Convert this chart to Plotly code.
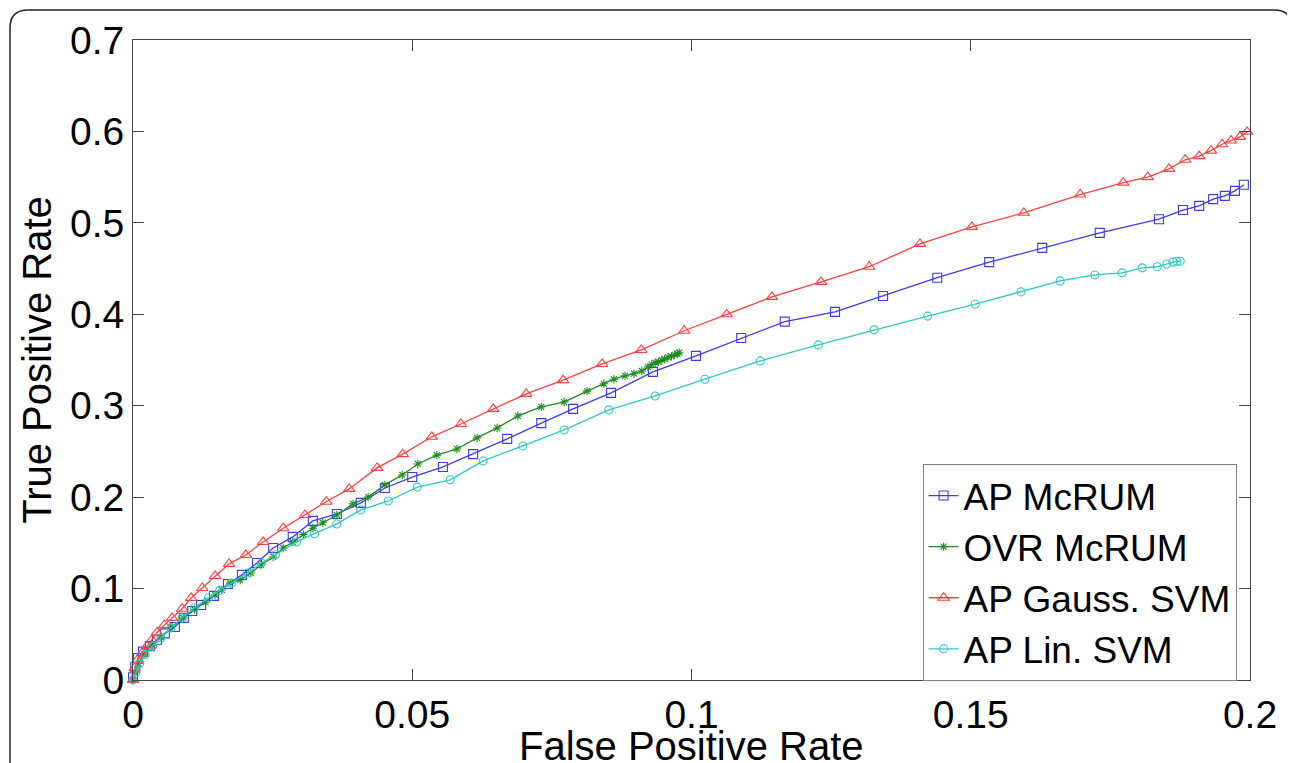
import plotly.graph_objects as go

# ROC curves
ap_mcrum_fpr = [0, 0.0004, 0.0009, 0.0018, 0.0030, 0.0043, 0.0057, 0.0075, 0.0091, 0.0106,
                0.0122, 0.0145, 0.0170, 0.0195, 0.0222, 0.0251, 0.0286, 0.0322, 0.0365, 0.0408,
                0.0451, 0.0500, 0.0555, 0.0609, 0.0670, 0.0731, 0.0788, 0.0856, 0.0931, 0.1008,
                0.1089, 0.1167, 0.1257, 0.1343, 0.1440, 0.1533, 0.1628, 0.1731, 0.1837, 0.1880,
                0.1909, 0.1934, 0.1955, 0.1973, 0.1989]
ap_mcrum_tpr = [0.003, 0.014, 0.024, 0.031, 0.037, 0.044, 0.051, 0.058, 0.068, 0.0755,
                0.082, 0.092, 0.105, 0.115, 0.128, 0.1444, 0.1565, 0.174, 0.1816, 0.1937,
                0.210, 0.222, 0.233, 0.247, 0.2637, 0.281, 0.2965, 0.314, 0.337, 0.3545,
                0.374, 0.392, 0.4026, 0.420, 0.440, 0.457, 0.4726, 0.489, 0.504, 0.514,
                0.5186, 0.526, 0.5295, 0.535, 0.5416]

ovr_mcrum_fpr = [0, 0.0003, 0.0010, 0.0020, 0.0035, 0.0050, 0.0070, 0.0090, 0.0110, 0.0130,
                 0.0147, 0.0159, 0.0174, 0.0192, 0.0211, 0.0229, 0.0251, 0.0269, 0.0286, 0.0305,
                 0.0322, 0.0340, 0.0365, 0.0394, 0.0421, 0.0451, 0.0482, 0.0510, 0.0544, 0.0580,
                 0.0616, 0.0652, 0.0689, 0.0731, 0.0772, 0.0813, 0.0843, 0.0861, 0.0881, 0.0897,
                 0.0911, 0.0922, 0.0929, 0.0935, 0.0941, 0.0947, 0.0952, 0.0958, 0.0964, 0.0970,
                 0.0975, 0.0978]
ovr_mcrum_tpr = [0, 0.008, 0.018, 0.028, 0.038, 0.047, 0.058, 0.068, 0.077, 0.085,
                 0.093, 0.0985, 0.106, 0.1094, 0.117, 0.1258, 0.1346, 0.1444, 0.151, 0.159,
                 0.166, 0.172, 0.1805, 0.1926, 0.200, 0.2134, 0.2243, 0.2363, 0.246, 0.2527,
                 0.2648, 0.2757, 0.2888, 0.2987, 0.304, 0.316, 0.324, 0.329, 0.3326, 0.335,
                 0.338, 0.3425, 0.345, 0.347, 0.348, 0.350, 0.351, 0.353, 0.354, 0.3556,
                 0.357, 0.358]

ap_gauss_fpr = [0, 0.0003, 0.0008, 0.0016, 0.0025, 0.0034, 0.0043, 0.0056, 0.0070, 0.0088,
                0.0104, 0.0124, 0.0147, 0.0172, 0.0202, 0.0233, 0.0269, 0.0308, 0.0346, 0.0387,
                0.0437, 0.0483, 0.0535, 0.0587, 0.0645, 0.0704, 0.0770, 0.0840, 0.0910, 0.0987,
                0.1063, 0.1144, 0.1232, 0.1318, 0.1409, 0.1502, 0.1595, 0.1696, 0.1773, 0.1817,
                0.1855, 0.1884, 0.1909, 0.1930, 0.1950, 0.1966, 0.1982, 0.1995]
ap_gauss_tpr = [0, 0.013, 0.022, 0.029, 0.037, 0.044, 0.052, 0.060, 0.068, 0.078,
                0.0897, 0.1007, 0.1138, 0.127, 0.1368, 0.151, 0.166, 0.1805, 0.195, 0.209,
                0.232, 0.247, 0.266, 0.280, 0.2965, 0.313, 0.328, 0.3457, 0.361, 0.382,
                0.400, 0.419, 0.4355, 0.452, 0.477, 0.4956, 0.511, 0.531, 0.544, 0.550,
                0.559, 0.569, 0.573, 0.579, 0.586, 0.590, 0.594, 0.5996]

ap_lin_fpr = [0, 0.0005, 0.0012, 0.0022, 0.0035, 0.0050, 0.0068, 0.0088, 0.0110, 0.0135,
              0.0155, 0.0176, 0.0205, 0.0230, 0.0255, 0.0293, 0.0325, 0.0365, 0.0408, 0.0457,
              0.0509, 0.0568, 0.0627, 0.0698, 0.0772, 0.0852, 0.0935, 0.1024, 0.1123, 0.1227,
              0.1327, 0.1423, 0.1508, 0.1590, 0.1660, 0.1722, 0.1771, 0.1807, 0.1834, 0.1851,
              0.1862, 0.1869, 0.1875]
ap_lin_tpr = [0, 0.008, 0.018, 0.028, 0.037, 0.046, 0.057, 0.068, 0.079, 0.090,
              0.098, 0.106, 0.117, 0.128, 0.137, 0.151, 0.160, 0.1707, 0.186, 0.1958,
              0.211, 0.219, 0.2396, 0.256, 0.2735, 0.2954, 0.3107, 0.329, 0.349, 0.3665,
              0.383, 0.398, 0.411, 0.4245, 0.4365, 0.443, 0.4453, 0.4508, 0.452, 0.455,
              0.457, 0.458, 0.458]

x_ticks = [0, 0.05, 0.1, 0.15, 0.2]
x_ticktext = ['0', '0.05', '0.1', '0.15', '0.2']
y_ticks = [0, 0.1, 0.2, 0.3, 0.4, 0.5, 0.6, 0.7]
y_ticktext = ['0', '0.1', '0.2', '0.3', '0.4', '0.5', '0.6', '0.7']

FONT = 'Liberation Sans, Arial, sans-serif'
AXCOL = '#444444'

series = [
    ('AP McRUM', ap_mcrum_fpr, ap_mcrum_tpr, '#3b3bff', 'square-open', 9),
    ('OVR McRUM', ovr_mcrum_fpr, ovr_mcrum_tpr, '#1f8c1f', 'asterisk-open', 7),
    ('AP Gauss. SVM', ap_gauss_fpr, ap_gauss_tpr, '#ff4040', 'triangle-up-open', 10),
    ('AP Lin. SVM', ap_lin_fpr, ap_lin_tpr, '#2ec8c4', 'circle-open', 8),
]

fig = go.Figure()
for name, xs, ys, col, sym, size in series:
    fig.add_trace(go.Scatter(
        x=xs, y=ys, name=name, mode='lines+markers',
        line=dict(color=col, width=1.3),
        marker=dict(symbol=sym, size=size, color=col, line=dict(color=col, width=1.1)),
        cliponaxis=False,
    ))

axis_common = dict(
    showline=True, linecolor=AXCOL, linewidth=1, mirror='allticks',
    ticks='inside', ticklen=11, tickcolor=AXCOL, tickwidth=1,
    showgrid=False, zeroline=False,
    tickfont=dict(family=FONT, size=39, color='black'),
)

fig.update_xaxes(range=[0, 0.2], tickvals=x_ticks, ticktext=x_ticktext, **axis_common)
fig.update_yaxes(range=[0, 0.7], tickvals=y_ticks, ticktext=y_ticktext,
                 title=dict(text='True Positive Rate', font=dict(family=FONT, size=40, color='black'),
                            standoff=5),
                 **axis_common)

# page body adds an 8px margin, so the figure is laid out 8px smaller
W, H = 1287, 755
L, R, T, B = 125, 1242, 32, 672


def px(xp):
    return (xp - L) / (R - L)


def py(yp):
    return (B - yp) / (B - T)


# rounded outer frame (decoration), in paper coordinates
x0, x1, y0, y1, rad = 2, 1284, 2, 790, 18
frame = ('M {a},{b} L {a},{c} Q {a},{d} {e},{d} L {f},{d} Q {g},{d} {g},{c} L {g},{b}'
         .format(a=px(x0), b=py(y1), c=py(y0 + rad), d=py(y0), e=px(x0 + rad),
                 f=px(x1 - rad), g=px(x1)))

fig.update_layout(
    width=W, height=H,
    margin=dict(l=L, r=W - R, t=T, b=H - B, autoexpand=False),
    paper_bgcolor='white', plot_bgcolor='white',
    font=dict(family=FONT, color='black'),
    showlegend=True,
    legend=dict(x=0.988, y=py(456), xanchor='right', yanchor='top',
                bgcolor='white', bordercolor='#808080', borderwidth=1,
                font=dict(family=FONT, size=37, color='black'),
                itemwidth=30, tracegroupgap=0),
    shapes=[dict(type='path', path=frame, xref='paper', yref='paper',
                 line=dict(color='#222222', width=1.5), layer='above')],
    annotations=[dict(text='False Positive Rate', xref='paper', yref='paper',
                      x=0.5, y=py(738), xanchor='center', yanchor='middle', showarrow=False,
                      font=dict(family=FONT, size=40, color='black'))],
)

fig.write_html('out.html')
